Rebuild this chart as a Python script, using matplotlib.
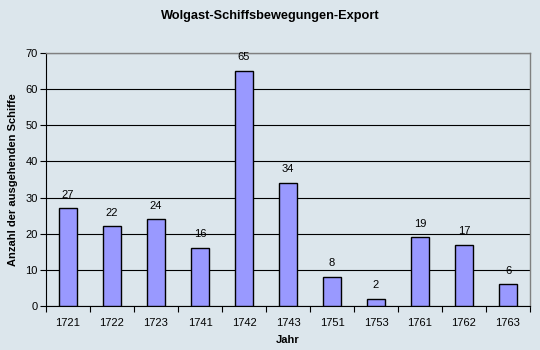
import matplotlib
matplotlib.use("Agg")
import matplotlib.pyplot as plt
import numpy as np

years = ["1721", "1722", "1723", "1741", "1742", "1743", "1751", "1753", "1761", "1762", "1763"]
ships = [27, 22, 24, 16, 65, 34, 8, 2, 19, 17, 6]

plt.rcParams['font.family'] = ['Liberation Sans', 'DejaVu Sans']
bg = '#dce6ec'

fig = plt.figure(figsize=(5.4, 3.5), dpi=100, facecolor=bg)
ax = fig.add_axes([46 / 540, 1 - 306 / 350, 484 / 540, 253 / 350], facecolor=bg)

x = np.arange(len(years))
bars = ax.bar(x, ships, width=0.39, color='#9999ff', edgecolor='black', linewidth=1, zorder=3)
for xi, v in zip(x, ships):
    ax.text(xi, v + 2.4, str(v), ha='center', va='bottom', fontsize=8, zorder=4)

ax.set_xlim(-0.5, len(years) - 0.5)
ax.set_ylim(0, 70)
ax.set_yticks(np.arange(0, 71, 10))
ax.yaxis.grid(True, color='black', linewidth=0.8, zorder=0)
ax.set_axisbelow(True)

ax.set_xticks(x)
ax.set_xticklabels(years, fontsize=8)
ax.set_xticks(np.arange(-0.5, len(years), 1), minor=True)
ax.tick_params(axis='x', which='major', length=0, pad=9)
ax.tick_params(axis='x', which='minor', length=4, direction='out', width=0.8)
ax.tick_params(axis='y', labelsize=8, length=4, width=0.8, pad=2)

for s in ['left', 'bottom']:
    ax.spines[s].set_color('black')
    ax.spines[s].set_linewidth(0.8)
for s in ['top', 'right']:
    ax.spines[s].set_color('#808080')
    ax.spines[s].set_linewidth(1)

ax.set_xlabel('Jahr', fontsize=8, fontweight='bold', labelpad=5)
ax.set_ylabel('Anzahl der ausgehenden Schiffe', fontsize=8, fontweight='bold', labelpad=5)
fig.text(0.5, 1 - 16 / 350, 'Wolgast-Schiffsbewegungen-Export', ha='center', va='center',
         fontsize=9.2, fontweight='bold')

fig.savefig('out.png', dpi=100, facecolor=bg)
